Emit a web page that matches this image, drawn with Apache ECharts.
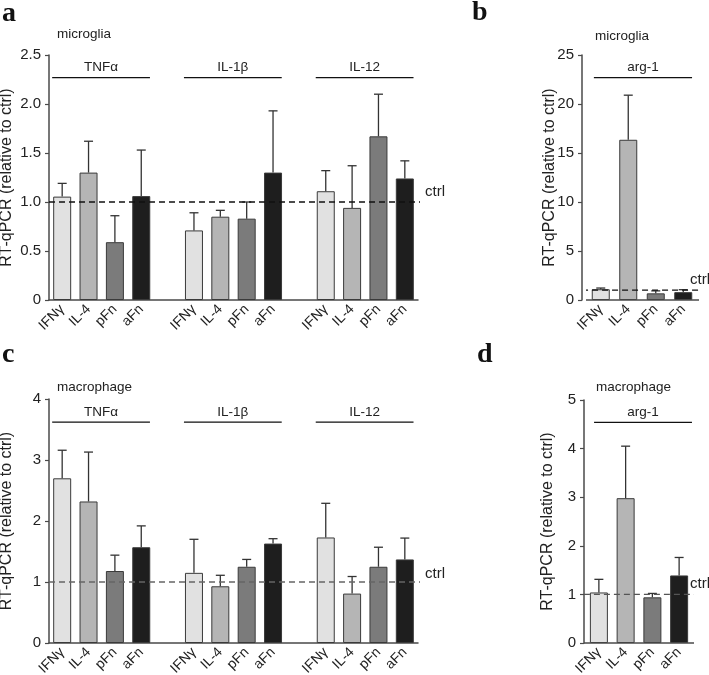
<!DOCTYPE html>
<html><head><meta charset="utf-8">
<script src="https://cdn.jsdelivr.net/npm/echarts@6/dist/echarts.min.js"></script>
<style>html,body{margin:0;padding:0;background:#fff}#c{width:709px;height:675px}</style>
</head><body><div id="c"></div>
<script>
// ---------- data ----------
const treatments = ['IFNγ', 'IL-4', 'pFn', 'aFn'];
const cytokines = ['TNFα', 'IL-1β', 'IL-12'];
const argGene = 'arg-1';
// panel a: microglia, cytokines (group-major: TNFα x4, IL-1β x4, IL-12 x4)
const microCytMean  = [1.055, 1.30, 0.59, 1.06,  0.71, 0.85, 0.83, 1.30,  1.11, 0.94, 1.67, 1.24];
const microCytUpper = [1.19, 1.62, 0.86, 1.53,   0.89, 0.915, 1.00, 1.93, 1.32, 1.37, 2.10, 1.42];
// panel b: microglia, arg-1
const microArgMean  = [1.10, 16.35, 0.68, 0.80];
const microArgUpper = [1.22, 20.9, 0.93, 1.05];
// panel c: macrophage, cytokines
const macroCytMean  = [2.70, 2.32, 1.18, 1.57,  1.15, 0.93, 1.25, 1.63,  1.73, 0.81, 1.25, 1.37];
const macroCytUpper = [3.16, 3.13, 1.44, 1.92,  1.70, 1.11, 1.37, 1.71,  2.29, 1.09, 1.57, 1.72];
// panel d: macrophage, arg-1
const macroArgMean  = [1.04, 2.98, 0.94, 1.39];
const macroArgUpper = [1.31, 4.05, 1.02, 1.76];
const ctrlLevel = 1;
const yTicksA = [0, 2.5, 0.5];
const yTicksB = [0, 25, 5];
const yTicksC = [0, 4, 1];
const yTicksD = [0, 5, 1];

// ---------- styles ----------
const FONT = "'Liberation Sans', Arial, sans-serif";
const AX = '#4a4a4a';
const TXT = '#222';
const treatColors = ['#e1e1e1', '#b5b5b5', '#7b7b7b', '#1e1e1e'];

function groupedCats() {
  const c = [];
  cytokines.forEach((g, gi) => { if (gi > 0) c.push(''); treatments.forEach(t => c.push(t)); });
  return c;
}

const panels = [
  { letter: 'a', cell: 'microglia', grid: { left: 49, top: 55, width: 369, height: 245 },
    grouped: true, mean: microCytMean, upper: microCytUpper, ticks: yTicksA,
    fmt: v => v === 0 ? '0' : v.toFixed(1), bracketY: 2.27, pad: [0.38, 0.33],
    dashColor: '#111', dashRange: [-0.5, 13.69], ctrlLabel: { position: 'right', distance: 2, offset: [0, -10] },
    nameGap: 34, yOffset: 0, letterPos: [2, -1], cellPos: [57, 27] },
  { letter: 'b', cell: 'microglia', grid: { left: 587, top: 55, width: 110, height: 245 },
    grouped: false, mean: microArgMean, upper: microArgUpper, ticks: yTicksB,
    fmt: v => String(v), bracketY: 22.7, pad: [0.25, 0.32],
    dashColor: '#111', dashRange: [-0.68, 3.61], ctrlLabel: { position: 'top', distance: 3 },
    nameGap: 24, yOffset: 5, base: [-0.68, 3.68], letterPos: [472, -2], cellPos: [595, 29] },
  { letter: 'c', cell: 'macrophage', grid: { left: 49, top: 399, width: 369, height: 244 },
    grouped: true, mean: macroCytMean, upper: macroCytUpper, ticks: yTicksC,
    fmt: v => String(v), bracketY: 3.62, pad: [0.38, 0.33],
    dashColor: '#666', dashRange: [-0.5, 13.69], ctrlLabel: { position: 'right', distance: 2, offset: [0, -8] },
    nameGap: 34, yOffset: 0, letterPos: [2, 340], cellPos: [57, 380] },
  { letter: 'd', cell: 'macrophage', grid: { left: 585.5, top: 400, width: 107, height: 243 },
    grouped: false, mean: macroArgMean, upper: macroArgUpper, ticks: yTicksD,
    fmt: v => String(v), bracketY: 4.54, pad: [0.18, 0.48],
    dashColor: '#555', dashRange: [-0.56, 3.78], ctrlLabel: { position: 'top', distance: 3 },
    nameGap: 28, yOffset: 1.5, base: [-0.56, 3.56], letterPos: [477, 340], cellPos: [596, 380] }
];

const option = {
  animation: false,
  backgroundColor: '#fff',
  textStyle: { fontFamily: FONT },
  title: [], grid: [], xAxis: [], yAxis: [], series: []
};

panels.forEach((p, pi) => {
  const cats = p.grouped ? groupedCats() : treatments.slice();
  const nCat = cats.length;
  option.grid.push(Object.assign({ outerBoundsMode: 'none', containLabel: false }, p.grid));
  option.title.push({ text: p.letter, left: p.letterPos[0], top: p.letterPos[1], padding: 0,
    textStyle: { fontFamily: "'Liberation Serif', 'Times New Roman', serif", fontWeight: 'bold', fontSize: 28, lineHeight: 30, color: '#111' } });
  option.title.push({ text: p.cell, left: p.cellPos[0], top: p.cellPos[1], padding: 0,
    textStyle: { fontFamily: FONT, fontWeight: 'normal', fontSize: 13.5, lineHeight: 15, color: TXT } });

  const showCatLine = p.grouped;
  option.xAxis.push({
    type: 'category', gridIndex: pi, data: cats, boundaryGap: true,
    axisLine: { show: showCatLine, onZero: false, lineStyle: { color: AX, width: 1.5 } },
    axisTick: { show: false },
    axisLabel: { interval: 0, rotate: 45, margin: 7, fontSize: 14, color: TXT, fontFamily: FONT,
      formatter: (v, i) => cats[i] },
    splitLine: { show: false }
  });
  option.xAxis.push({
    type: 'value', gridIndex: pi, min: -0.5, max: nCat - 0.5, show: false,
    axisLine: { show: false, onZero: false }, splitLine: { show: false }
  });
  option.yAxis.push({
    type: 'value', gridIndex: pi, min: p.ticks[0], max: p.ticks[1], interval: p.ticks[2],
    offset: p.yOffset, position: 'left',
    name: 'RT-qPCR (relative to ctrl)', nameLocation: 'middle', nameGap: p.nameGap, nameMoveOverlap: false,
    nameTextStyle: { fontSize: 16, color: TXT, fontFamily: FONT },
    axisLine: { show: true, onZero: false, lineStyle: { color: AX, width: 1.5 } },
    axisTick: { show: true, inside: false, length: 4, lineStyle: { color: AX, width: 1.2 } },
    axisLabel: { fontSize: 15, color: TXT, margin: 8, fontFamily: FONT, formatter: p.fmt },
    splitLine: { show: false }
  });
  const xc = pi * 2, xv = pi * 2 + 1;

  // bars & error bars
  const barData = cats.map(() => '-');
  const errData = [];
  const groupCount = p.grouped ? cytokines.length : 1;
  for (let g = 0; g < groupCount; g++) {
    treatments.forEach((t, ti) => {
      const idx = g * 5 + ti;
      const k = g * 4 + ti;
      barData[idx] = { value: p.mean[k], itemStyle: { color: treatColors[ti] } };
      errData.push([idx, p.mean[k], p.upper[k]]);
    });
  }
  option.series.push({
    type: 'bar', xAxisIndex: xc, yAxisIndex: pi, data: barData, barWidth: 18, z: 2,
    itemStyle: { borderColor: '#3a3a3a', borderWidth: 1 }
  });
  option.series.push({
    type: 'custom', xAxisIndex: xc, yAxisIndex: pi, data: errData, z: 3,
    encode: { x: 0, y: [1, 2] },
    renderItem: (params, api) => {
      const x = api.value(0), m = api.value(1), u = api.value(2);
      const p0 = api.coord([x, m]), p1 = api.coord([x, u]);
      const st = { stroke: '#333', lineWidth: 1.3 };
      return { type: 'group', children: [
        { type: 'line', shape: { x1: p0[0], y1: p0[1], x2: p1[0], y2: p1[1] }, style: st },
        { type: 'line', shape: { x1: p1[0] - 4.5, y1: p1[1], x2: p1[0] + 4.5, y2: p1[1] }, style: st }
      ] };
    }
  });

  // group brackets
  const groupNames = p.grouped ? cytokines : [argGene];
  groupNames.forEach((name, g) => {
    const s = g * 5 - p.pad[0], e = g * 5 + 3 + p.pad[1];
    option.series.push({
      type: 'line', xAxisIndex: xv, yAxisIndex: pi, clip: false, z: 4,
      symbol: 'circle', symbolSize: 0, showSymbol: true,
      lineStyle: { color: '#111', width: 1.2 },
      data: [[s, p.bracketY],
             { value: [(s + e) / 2, p.bracketY], label: { show: true, position: 'top', distance: 3, formatter: name,
               fontSize: 13.5, color: TXT, fontFamily: FONT } },
             [e, p.bracketY]]
    });
  });

  // ctrl dashed line
  option.series.push({
    type: 'line', xAxisIndex: xv, yAxisIndex: pi, clip: false, z: 5,
    symbol: 'circle', symbolSize: 0, showSymbol: true,
    lineStyle: { color: p.dashColor, width: 1.3, type: [6, 4] },
    data: [[p.dashRange[0], ctrlLevel],
           { value: [p.dashRange[1], ctrlLevel],
             label: Object.assign({ show: true, formatter: 'ctrl', fontSize: 15, color: TXT, fontFamily: FONT }, p.ctrlLabel) }]
  });

  // x baseline for single-gene panels (meets the offset y axis)
  if (p.base) {
    option.series.push({
      type: 'line', xAxisIndex: xv, yAxisIndex: pi, clip: false, z: 6,
      symbol: 'none', lineStyle: { color: AX, width: 1.5 },
      data: [[p.base[0], 0], [p.base[1], 0]]
    });
  }
});

const chart = echarts.init(document.getElementById('c'), null, { renderer: 'canvas' });
chart.setOption(option);
</script>
</body></html>
